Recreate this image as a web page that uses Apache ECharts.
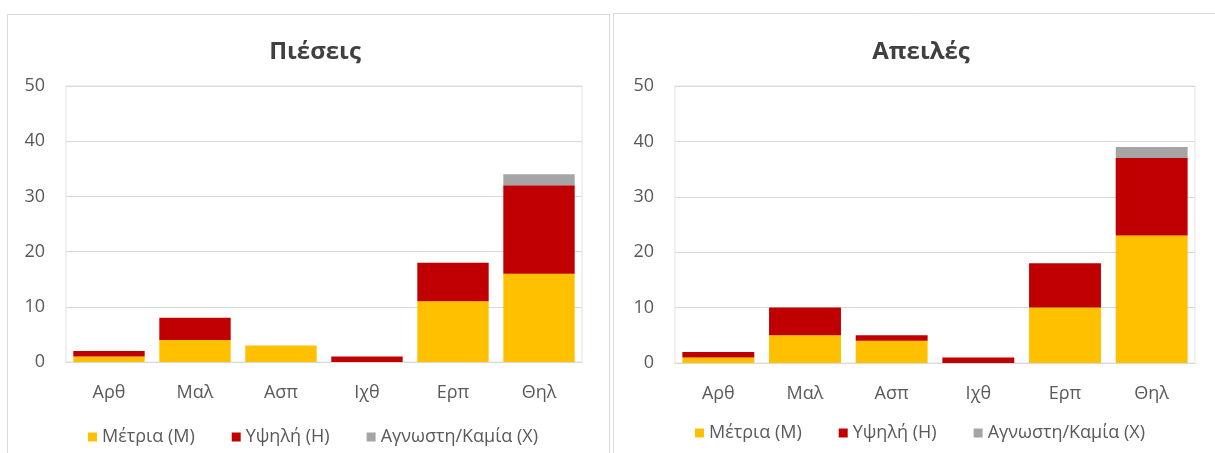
<!DOCTYPE html>
<html>
<head>
<meta charset="utf-8">
<script src="https://cdn.jsdelivr.net/npm/echarts@6/dist/echarts.min.js"></script>
<style>
html,body{margin:0;padding:0;background:#fff;}
#c{width:1215px;height:453px;}
</style>
</head>
<body>
<div id="c"></div>
<script>
const categories = ['Αρθ', 'Μαλ', 'Ασπ', 'Ιχθ', 'Ερπ', 'Θηλ'];
const seriesNames = ['Μέτρια (M)', 'Υψηλή (H)', 'Αγνωστη/Καμία (X)'];
const titles = ['Πιέσεις', 'Απειλές'];
// Πιέσεις
const pressMedium = [1, 4, 3, 0, 11, 16];
const pressHigh = [1, 4, 0, 1, 7, 16];
const pressUnknown = [0, 0, 0, 0, 0, 2];
// Απειλές
const threatMedium = [1, 5, 4, 0, 10, 23];
const threatHigh = [1, 5, 1, 1, 8, 14];
const threatUnknown = [0, 0, 0, 0, 0, 2];
const yTicks = [0, 10, 20, 30, 40, 50];

const colors = ['#FFC000', '#C00000', '#A5A5A5'];
const font = '"Open Sans", "Noto Sans", sans-serif';
const txt = '#595959';

const chart = echarts.init(document.getElementById('c'), null, {renderer: 'canvas'});

function yAxis(idx) {
  return {
    type: 'value', gridIndex: idx, min: yTicks[0], max: yTicks[yTicks.length - 1], interval: 10,
    axisLine: {show: false}, axisTick: {show: false},
    axisLabel: {color: txt, fontFamily: font, fontSize: 18, margin: 21},
    splitLine: {lineStyle: {color: '#d9d9d9', width: 1}}
  };
}
function xAxis(idx) {
  return {
    type: 'category', gridIndex: idx, data: categories,
    axisLine: {show: true, lineStyle: {color: '#d9d9d9'}}, axisTick: {show: false},
    axisLabel: {color: txt, fontFamily: font, fontSize: 18, margin: 22}
  };
}
function bar(name, data, idx, ci) {
  return {
    name: name, type: 'bar', stack: 's' + idx, xAxisIndex: idx, yAxisIndex: idx,
    data: data, barCategoryGap: '17%', itemStyle: {color: colors[ci]},
    emphasis: {disabled: true}
  };
}
const legendBase = {
  data: seriesNames, icon: 'rect', itemWidth: 9, itemHeight: 9, itemGap: 37,
  textStyle: {color: txt, fontFamily: font, fontSize: 18}
};

chart.setOption({
  animation: false,
  graphic: [
    {type: 'rect', shape: {x: 7.5, y: 14.5, width: 602, height: 445}, style: {fill: '#fff', stroke: '#d9d9d9', lineWidth: 1}, z: -10},
    {type: 'rect', shape: {x: 613.5, y: 13.5, width: 610, height: 445}, style: {fill: '#fff', stroke: '#d9d9d9', lineWidth: 1}, z: -10}
  ],
  title: [
    {text: titles[0], left: 310, top: 35, textAlign: 'center', textStyle: {fontFamily: font, fontSize: 24, fontWeight: 'bold', color: '#404040'}},
    {text: titles[1], left: 916, top: 35, textAlign: 'center', textStyle: {fontFamily: font, fontSize: 24, fontWeight: 'bold', color: '#404040'}}
  ],
  legend: [
    Object.assign({}, legendBase, {left: 83, top: 423}),
    Object.assign({}, legendBase, {left: 690, top: 419})
  ],
  grid: [
    {left: 66, right: 633, top: 86, bottom: 91, show: true, borderColor: '#e3e3e3', borderWidth: 1},
    {left: 675, right: 20, top: 86, bottom: 90, show: true, borderColor: '#e3e3e3', borderWidth: 1}
  ],
  xAxis: [xAxis(0), xAxis(1)],
  yAxis: [yAxis(0), yAxis(1)],
  series: [
    bar(seriesNames[0], pressMedium, 0, 0),
    bar(seriesNames[1], pressHigh, 0, 1),
    bar(seriesNames[2], pressUnknown, 0, 2),
    bar(seriesNames[0], threatMedium, 1, 0),
    bar(seriesNames[1], threatHigh, 1, 1),
    bar(seriesNames[2], threatUnknown, 1, 2)
  ]
});
</script>
</body>
</html>
